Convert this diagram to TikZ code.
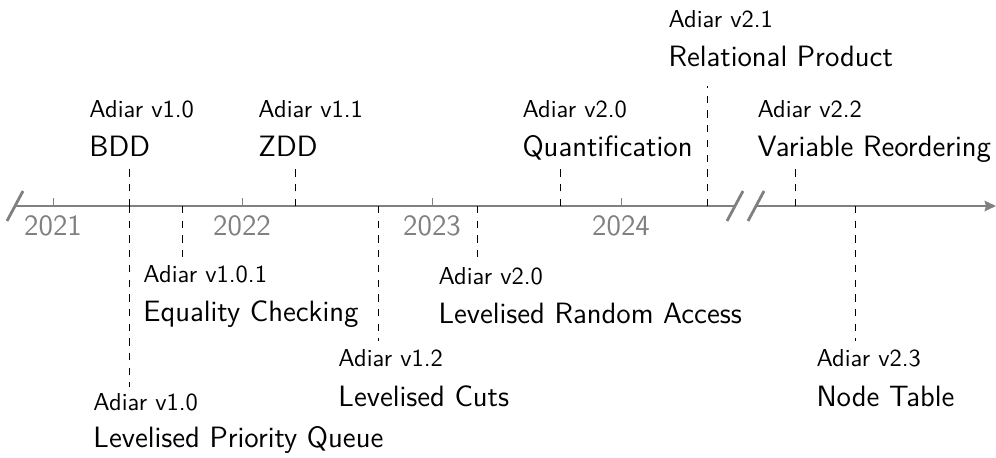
\documentclass[tikz,border=0pt]{standalone}
\usetikzlibrary{arrows.meta}
\begin{document}
\begin{tikzpicture}[x=0.408pt,y=-0.408pt,
  axis/.style={draw=gray, line width=1.15pt},
  tickmark/.style={draw=gray, line width=0.4pt},
  event/.style={draw=black, line width=0.4pt, dash pattern=on 3pt off 3pt},
  ver/.style={anchor=base west, inner sep=0pt, font=\sffamily\normalsize},
  feat/.style={anchor=base west, inner sep=0pt, font=\sffamily\large},
  yearlbl/.style={anchor=base, inner sep=0pt, text=gray, font=\sffamily\large}]
\useasboundingbox (0,0) rectangle (996,457);

% axis
\coordinate (a0) at (15,206);
\coordinate (a1) at (735,206);
\coordinate (a2) at (756,206);
\coordinate (a3) at (996,206);
\draw[axis] (a0) -- (a1);
\draw[axis,-{Stealth[length=4.6pt,width=4.2pt,inset=0.5pt]}] (a2) -- (a3);
\draw[axis] ([shift={(-8,15)}]a0) -- ([shift={(8,-15)}]a0);
\draw[axis] ([shift={(-8,15)}]a1) -- ([shift={(8,-15)}]a1);
\draw[axis] ([shift={(-8,15)}]a2) -- ([shift={(8,-15)}]a2);

% years
\foreach \yr/\xx in {2021/53, 2022/242, 2023/432, 2024/621}{
  \coordinate (t\yr) at (\xx,206);
  \draw[tickmark] (t\yr) -- ++(0,-8);
  \node[yearlbl] (y\yr) at (\xx,235) {\yr};
}

% events above
\coordinate (bdd-a) at (129,206); \coordinate (bdd-e) at (129,168);
\draw[event] (bdd-a) -- (bdd-e);
\node[ver] (bdd-v) at (89,118) {Adiar v1.0};
\node[feat] (bdd-t) at (89,157) {BDD};

\coordinate (zdd-a) at (295,206); \coordinate (zdd-e) at (295,168);
\draw[event] (zdd-a) -- (zdd-e);
\node[ver] (zdd-v) at (258,118) {Adiar v1.1};
\node[feat] (zdd-t) at (258,157) {ZDD};

\coordinate (qnt-a) at (560,206); \coordinate (qnt-e) at (560,168);
\draw[event] (qnt-a) -- (qnt-e);
\node[ver] (qnt-v) at (522,118) {Adiar v2.0};
\node[feat] (qnt-t) at (522,157) {Quantification};

\coordinate (rel-a) at (707,206); \coordinate (rel-e) at (707,86);
\draw[event] (rel-a) -- (rel-e);
\node[ver] (rel-v) at (668,28) {Adiar v2.1};
\node[feat] (rel-t) at (668,67) {Relational Product};

\coordinate (vro-a) at (795,206); \coordinate (vro-e) at (795,168);
\draw[event] (vro-a) -- (vro-e);
\node[ver] (vro-v) at (757,118) {Adiar v2.2};
\node[feat] (vro-t) at (757,157) {Variable Reordering};

% events below
\coordinate (lpq-a) at (129,206); \coordinate (lpq-e) at (129,387);
\draw[event] (lpq-a) -- (lpq-e);
\node[ver] (lpq-v) at (93,410) {Adiar v1.0};
\node[feat] (lpq-t) at (93,447) {Levelised Priority Queue};

\coordinate (eqc-a) at (182,206); \coordinate (eqc-e) at (182,258);
\draw[event] (eqc-a) -- (eqc-e);
\node[ver] (eqc-v) at (143,282) {Adiar v1.0.1};
\node[feat] (eqc-t) at (143,321) {Equality Checking};

\coordinate (cut-a) at (378,206); \coordinate (cut-e) at (378,341);
\draw[event] (cut-a) -- (cut-e);
\node[ver] (cut-v) at (338,366) {Adiar v1.2};
\node[feat] (cut-t) at (338,406) {Levelised Cuts};

\coordinate (lra-a) at (477,206); \coordinate (lra-e) at (477,258);
\draw[event] (lra-a) -- (lra-e);
\node[ver] (lra-v) at (438,284) {Adiar v2.0};
\node[feat] (lra-t) at (438,323) {Levelised Random Access};

\coordinate (ntb-a) at (855,206); \coordinate (ntb-e) at (855,341);
\draw[event] (ntb-a) -- (ntb-e);
\node[ver] (ntb-v) at (816,366) {Adiar v2.3};
\node[feat] (ntb-t) at (816,406) {Node Table};
\end{tikzpicture}
\end{document}
